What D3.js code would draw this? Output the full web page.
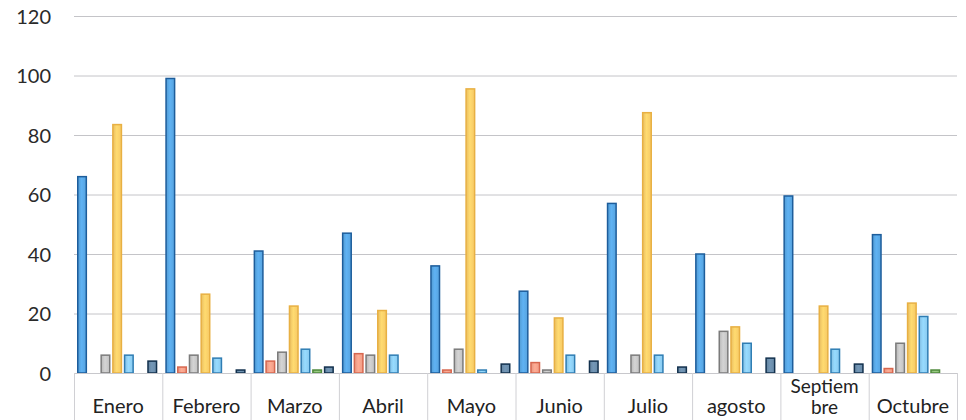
<!DOCTYPE html>
<html><head><meta charset="utf-8">
<script src="https://cdn.jsdelivr.net/npm/d3@7"></script>
<style>body{margin:0;background:#fff}svg{display:block}</style>
</head><body><svg id="c" width="966" height="420"></svg>
<script>
const categories = ["Enero","Febrero","Marzo","Abril","Mayo","Junio","Julio","agosto","Septiembre","Octubre"];
const categoryLines = [["Enero"],["Febrero"],["Marzo"],["Abril"],["Mayo"],["Junio"],["Julio"],["agosto"],["Septiem","bre"],["Octubre"]];
const seriesNames = ["S1","S2","S3","S4","S5","S6","S7"];
const s1 = [66, 99, 41, 47, 36, 27.5, 57, 40, 59.5, 46.5];
const s2 = [0, 2, 4, 6.5, 1, 3.5, 0, 0, 0, 1.5];
const s3 = [6, 6, 7, 6, 8, 1, 6, 14, 0, 10];
const s4 = [83.5, 26.5, 22.5, 21, 95.5, 18.5, 87.5, 15.5, 22.5, 23.5];
const s5 = [6, 5, 8, 6, 1, 6, 6, 10, 8, 19];
const s6 = [0, 0, 1, 0, 0, 0, 0, 0, 0, 1];
const s7 = [4, 1, 2, 0, 3, 4, 2, 5, 3, 0];
const yTicks = [0, 20, 40, 60, 80, 100, 120];
const fills = ["#5aa9e6","#f7a38c","#c9c9c9","#ffd06a","#8fd0f7","#93c47d","#6d8fad"];
const strokes = ["#1d5d9b","#d7674f","#7b7b7b","#e8b043","#2f7db3","#4f8a3c","#12304d"];

const allSeries = [s1,s2,s3,s4,s5,s6,s7];
const svg = d3.select("#c");
const m = {l:74, r:9, t:16, b:47};
const W = 966, H = 420;
const FONT = "Lato, 'Open Sans', sans-serif";
const x = d3.scaleBand().domain(categories).range([m.l, W - m.r]).paddingInner(0).paddingOuter(0);
const xs = d3.scaleBand().domain(seriesNames).range([3, x.bandwidth() - 5]).paddingInner(0.14);
const y = d3.scaleLinear().domain([0,120]).range([H - m.b, m.t]);

const defs = svg.append("defs");
fills.forEach((f,i)=>{
  const g = defs.append("linearGradient").attr("id","g"+i).attr("x1","0").attr("x2","1").attr("y1","0").attr("y2","0");
  g.append("stop").attr("offset","0").attr("stop-color", d3.color(f).darker(0.25));
  g.append("stop").attr("offset","0.45").attr("stop-color", d3.color(f).brighter(0.15));
  g.append("stop").attr("offset","1").attr("stop-color", d3.color(f).darker(0.1));
});

svg.append("g").selectAll("line").data(yTicks.filter(d=>d>0)).join("line")
  .attr("x1", m.l).attr("x2", W - m.r)
  .attr("y1", d=>y(d)+0.5).attr("y2", d=>y(d)+0.5)
  .attr("stroke","#c4c4c8").attr("stroke-width",1);

const yAxis = d3.axisLeft(y).tickValues(yTicks).tickSize(0).tickPadding(0);
const ya = svg.append("g").attr("transform",`translate(${m.l-23},0)`).call(yAxis);
ya.select(".domain").remove();
ya.selectAll("text").attr("font-family",FONT).attr("font-size",20).attr("fill","#2a2a2a").attr("dy","0.35em");

const g = svg.append("g");
categories.forEach((c,ci)=>{
  allSeries.forEach((s,si)=>{
    const v = s[ci];
    if (v <= 0) return;
    g.append("rect")
      .attr("x", x(c) + xs(seriesNames[si]) + 0.75)
      .attr("y", y(v))
      .attr("width", xs.bandwidth() - 1.5)
      .attr("height", Math.max(0, y(0) - y(v)))
      .attr("fill", `url(#g${si})`)
      .attr("stroke", strokes[si]).attr("stroke-width", 1.5);
  });
});

const xb = svg.append("g");
xb.append("line").attr("x1", m.l).attr("x2", W - m.r).attr("y1", y(0)+0.5).attr("y2", y(0)+0.5).attr("stroke","#c8c8cc");
const bounds = categories.map(c=>x(c)).concat([x(categories[categories.length-1]) + x.bandwidth()]);
xb.selectAll("line.sep").data(bounds).join("line").attr("class","sep")
  .attr("x1", d=>d+0.5).attr("x2", d=>d+0.5).attr("y1", y(0)).attr("y2", H)
  .attr("stroke","#d0d0d4");
categories.forEach((c,ci)=>{
  const lines = categoryLines[ci];
  const t = xb.append("text").attr("text-anchor","middle")
    .attr("font-family",FONT).attr("font-size", lines.length === 1 ? 20 : 19).attr("fill","#222");
  if (lines.length === 1) {
    t.append("tspan").attr("x", x(c)+x.bandwidth()/2).attr("y", 413).text(lines[0]);
  } else {
    lines.forEach((l,li)=> t.append("tspan").attr("x", x(c)+x.bandwidth()/2).attr("y", 393 + li*21).text(l));
  }
});
</script>
</body></html>
